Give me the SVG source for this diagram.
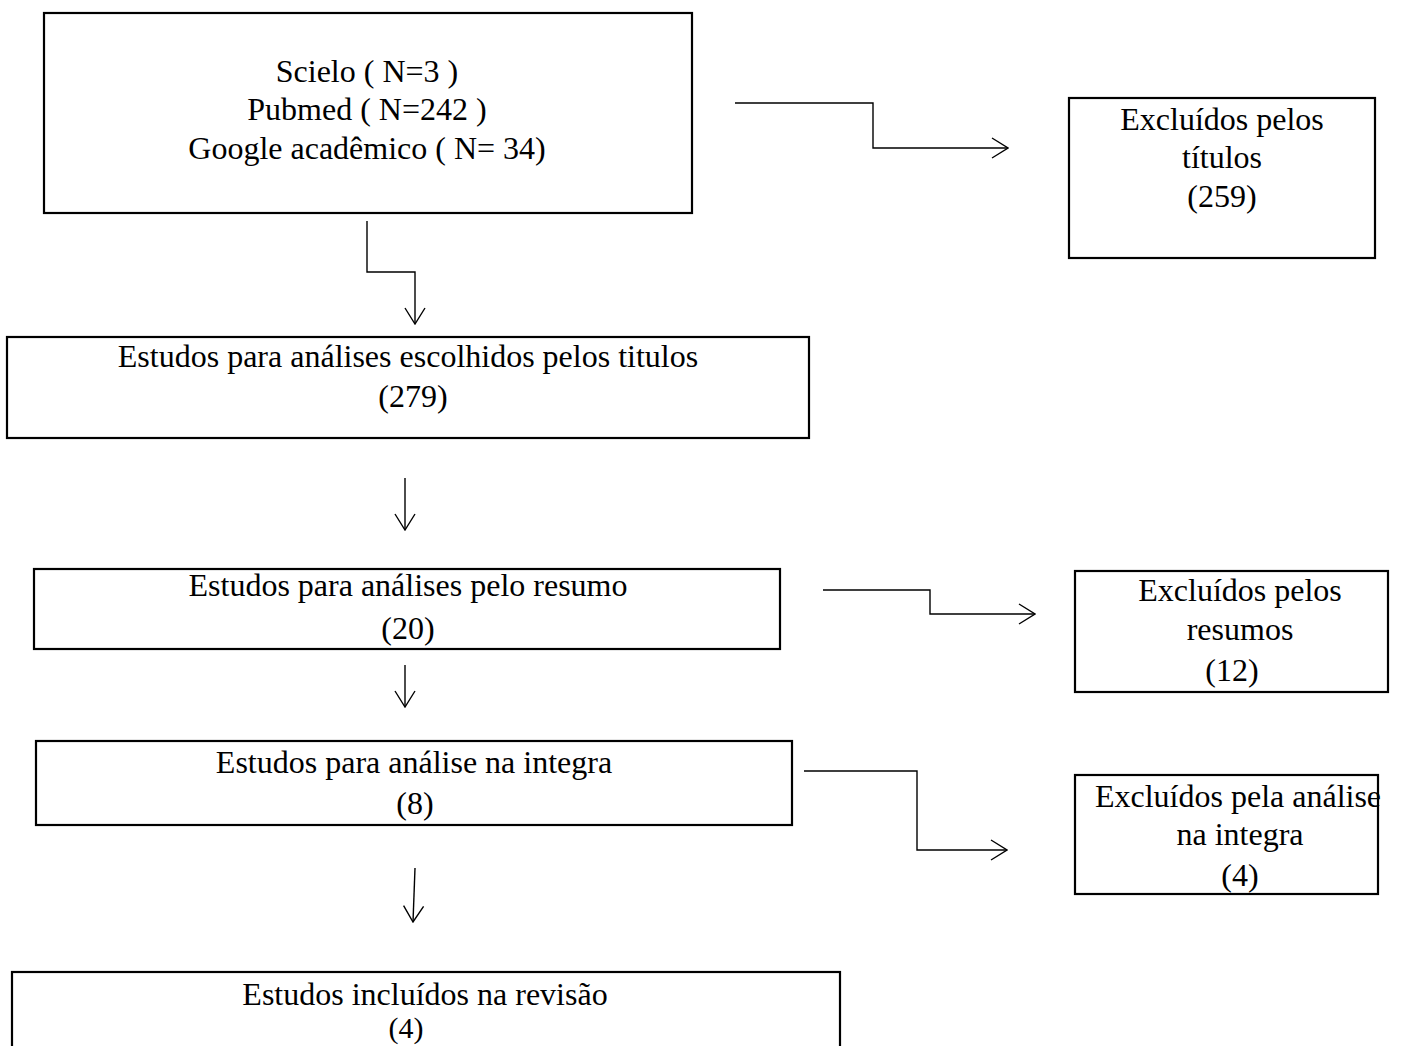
<svg xmlns="http://www.w3.org/2000/svg" width="1414" height="1046" viewBox="0 0 1414 1046">
<style>
.box{fill:#fff;stroke:#000;stroke-width:2.2}
.t{font-family:"Liberation Serif","Times New Roman",serif;font-size:32px;fill:#000;text-anchor:middle}
.c{fill:none;stroke:#000;stroke-width:1.4}
</style>
<defs>
<marker id="ah" markerUnits="userSpaceOnUse" viewBox="0 0 18 22" refX="17" refY="11" markerWidth="18" markerHeight="22" orient="auto">
<path d="M1,1 L17,11 L1,21" fill="none" stroke="#000" stroke-width="1.4"/>
</marker>
</defs>
<rect width="1414" height="1046" fill="#fff"/>
<g id="connectors">
<path class="c" d="M735,103 H873 V148 H1008" marker-end="url(#ah)"/>
<path class="c" d="M367,221 V272 H415 V324" marker-end="url(#ah)"/>
<path class="c" d="M405,478 V530" marker-end="url(#ah)"/>
<path class="c" d="M823,590 H930 V614 H1035" marker-end="url(#ah)"/>
<path class="c" d="M405,665 V707" marker-end="url(#ah)"/>
<path class="c" d="M804,771 H917 V850 H1007" marker-end="url(#ah)"/>
<path class="c" d="M415,868 L413,922" marker-end="url(#ah)"/>
</g>
<g id="n1">
<rect class="box" x="44" y="13" width="648" height="200"/>
<text class="t" x="367" y="82">Scielo ( N=3 )</text>
<text class="t" x="367" y="120">Pubmed ( N=242 )</text>
<text class="t" x="367" y="159">Google acadêmico ( N= 34)</text>
</g>
<g id="n2">
<rect class="box" x="1069" y="98" width="306" height="160"/>
<text class="t" x="1222" y="130">Excluídos pelos</text>
<text class="t" x="1222" y="168">títulos</text>
<text class="t" x="1222" y="207">(259)</text>
</g>
<g id="n3">
<rect class="box" x="7" y="337" width="802" height="101"/>
<text class="t" x="408" y="367">Estudos para análises escolhidos pelos titulos</text>
<text class="t" x="413" y="407">(279)</text>
</g>
<g id="n4">
<rect class="box" x="34" y="569" width="746" height="80"/>
<text class="t" x="408" y="596">Estudos para análises pelo resumo</text>
<text class="t" x="408" y="639">(20)</text>
</g>
<g id="n5">
<rect class="box" x="1075" y="571" width="313" height="121"/>
<text class="t" x="1240" y="601">Excluídos pelos</text>
<text class="t" x="1240" y="640">resumos</text>
<text class="t" x="1232" y="681">(12)</text>
</g>
<g id="n6">
<rect class="box" x="36" y="741" width="756" height="84"/>
<text class="t" x="414" y="773">Estudos para análise na integra</text>
<text class="t" x="415" y="814">(8)</text>
</g>
<g id="n7">
<rect class="box" x="1075" y="775" width="303" height="119"/>
<text class="t" x="1238" y="807">Excluídos pela análise</text>
<text class="t" x="1240" y="845">na integra</text>
<text class="t" x="1240" y="886">(4)</text>
</g>
<g id="n8">
<rect class="box" x="12" y="972" width="828" height="95"/>
<text class="t" x="425" y="1005">Estudos incluídos na revisão</text>
<text class="t" x="406" y="1038" style="font-size:30px">(4)</text>
</g>
</svg>
